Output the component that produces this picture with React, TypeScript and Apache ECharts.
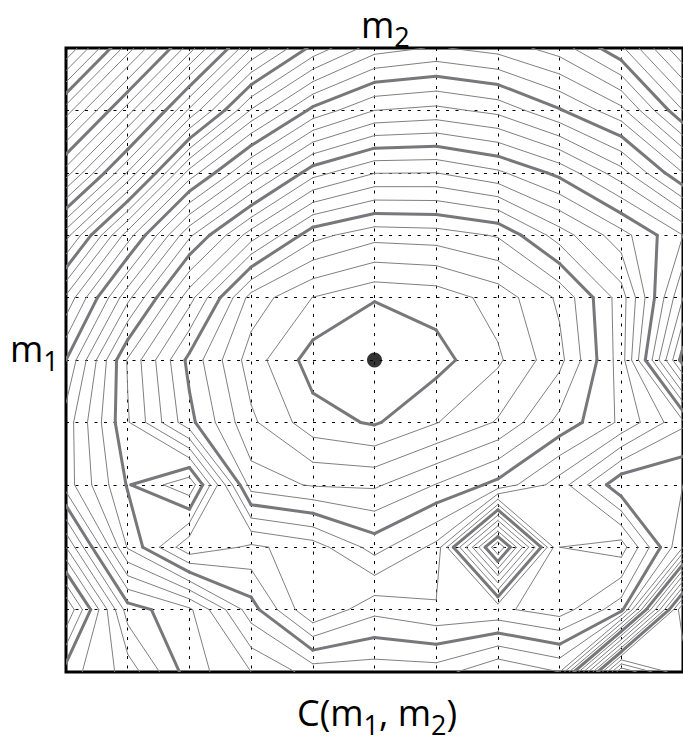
import React, { useEffect, useRef } from "react";
import * as echarts from "echarts";

// Node positions of the sampling grid (both axes use the same 0..10 index)
const gridIndex = [0, 1, 2, 3, 4, 5, 6, 7, 8, 9, 10];

// Sampled C(m1, m2) values, one row per m1 step (top to bottom)
const row0 = [44, 38.5, 33.5, 28, 24.7, 22.45, 21.9, 22.4, 23.5, 25.8, 30];
const row1 = [38.5, 33.5, 27.8, 22.9, 19.7, 18.0, 17.7, 18.3, 19.9, 21.7, 26];
const row2 = [33.5, 27.9, 21.6, 17.75, 14.4, 13.04, 13.0, 13.8, 15.3, 17.6, 21];
const row3 = [27.4, 21.5, 16.2, 12.5, 9.35, 8.37, 8.5, 9.1, 11.5, 13.6, 16];
const row4 = [22.8, 17.3, 12.4, 7.6, 5.98, 5.2, 5.42, 6.4, 8.2, 11.5, 18];
const row5 = [20, 13.9, 9.7, 6.5, 4.54, 2.16, 4.61, 5.84, 7.7, 11.5, 20.5];
const row6 = [18.55, 14.1, 10.3, 7.2, 5.41, 4.88, 5.95, 7.1, 9.3, 11.2, 13.8];
const row7 = [18.5, 14.9, 16.8, 8.5, 7.9, 7.83, 9.04, 10.3, 12.5, 15.8, 16];
const row8 = [23, 15.9, 12.2, 13.2, 12.5, 10.6, 12.3, 22, 12, 11.5, 17];
const row9 = [28, 20.5, 19.2, 15.45, 12.03, 13.7, 13.13, 13.2, 12.5, 14.6, 28];
const row10 = [24.5, 22.6, 19.5, 18, 16.6, 16.6, 16.5, 18, 17, 30, 26];

const surface = [row0, row1, row2, row3, row4, row5, row6, row7, row8, row9, row10];

// Contour levels: every integer from 5 upwards, every fifth one drawn heavy
const firstLevel = 5;
const majorEvery = 5;

// Position of the minimum, marked with a dot
const minimumPoint = [5, 5];

type Seg = [number, number, number, number];

function marchingSquares(z: number[][], xs: number[], level: number): Seg[] {
  const segs: Seg[] = [];
  const ny = z.length;
  const nx = z[0].length;
  const t = (v1: number, v2: number) => (level - v1) / (v2 - v1);
  for (let j = 0; j < ny - 1; j++) {
    for (let i = 0; i < nx - 1; i++) {
      const a = z[j][i];
      const b = z[j][i + 1];
      const c = z[j + 1][i + 1];
      const d = z[j + 1][i];
      const x0 = xs[i];
      const x1 = xs[i + 1];
      const y0 = xs[j];
      const y1 = xs[j + 1];
      const A = a < level, B = b < level, C = c < level, D = d < level;
      const top = A !== B ? [x0 + t(a, b) * (x1 - x0), y0] : null;
      const right = B !== C ? [x1, y0 + t(b, c) * (y1 - y0)] : null;
      const bottom = D !== C ? [x0 + t(d, c) * (x1 - x0), y1] : null;
      const left = A !== D ? [x0, y0 + t(a, d) * (y1 - y0)] : null;
      const pts = [top, right, bottom, left].filter(Boolean) as number[][];
      if (pts.length === 2) {
        segs.push([pts[0][0], pts[0][1], pts[1][0], pts[1][1]]);
      } else if (pts.length === 4) {
        // saddle cell: decide the pairing from the cell-centre average
        const center = (a + b + c + d) / 4;
        if ((center < level) === A) {
          segs.push([top![0], top![1], right![0], right![1]]);
          segs.push([left![0], left![1], bottom![0], bottom![1]]);
        } else {
          segs.push([top![0], top![1], left![0], left![1]]);
          segs.push([right![0], right![1], bottom![0], bottom![1]]);
        }
      }
    }
  }
  return segs;
}

function buildContours() {
  let maxV = -Infinity;
  surface.forEach((r) => r.forEach((v) => (maxV = Math.max(maxV, v))));
  const thin: Seg[] = [];
  const thick: Seg[] = [];
  for (let lv = firstLevel; lv < maxV; lv++) {
    const segs = marchingSquares(surface, gridIndex, lv);
    if (lv % majorEvery === 0) thick.push(...segs);
    else thin.push(...segs);
  }
  return { thin, thick };
}

const FONT = "'Open Sans', 'Noto Sans', sans-serif";

export default function App() {
  const ref = useRef<HTMLDivElement>(null);

  useEffect(() => {
    if (!ref.current) return;
    const chart = echarts.init(ref.current, undefined, { renderer: "svg" });
    const { thin, thick } = buildContours();

    const segRenderer = (color: string, width: number) => (params: any, api: any) => {
      const p1 = api.coord([api.value(0), api.value(1)]);
      const p2 = api.coord([api.value(2), api.value(3)]);
      return {
        type: "line",
        shape: { x1: p1[0], y1: p1[1], x2: p2[0], y2: p2[1] },
        style: { stroke: color, lineWidth: width, lineCap: "round" },
        silent: true,
      };
    };

    // main glyphs centred in a 52px line, subscripts pushed to the line bottom
    const main = { fontSize: 36, fontFamily: FONT, color: "#000", lineHeight: 52, verticalAlign: "middle" };
    const sub = { fontSize: 27, fontFamily: FONT, color: "#000", lineHeight: 28, verticalAlign: "bottom" };

    chart.setOption({
      animation: false,
      backgroundColor: "#fff",
      grid: {
        left: 66,
        top: 48,
        width: 624,
        height: 624,
        show: true,
        borderColor: "#000",
        borderWidth: 3,
        backgroundColor: "transparent",
      },
      xAxis: {
        type: "value",
        min: 0,
        max: 10,
        interval: 1,
        axisLine: { show: false },
        axisTick: { show: false },
        axisLabel: { show: false },
        splitLine: { show: true, lineStyle: { color: "#000", type: [3, 6.5], width: 1 } },
      },
      yAxis: {
        type: "value",
        min: 0,
        max: 10,
        interval: 1,
        inverse: true,
        axisLine: { show: false },
        axisTick: { show: false },
        axisLabel: { show: false },
        splitLine: { show: true, lineStyle: { color: "#000", type: [3, 6.5], width: 1 } },
      },
      graphic: [
        {
          type: "text",
          left: 361,
          top: 6,
          style: { text: "{m|m}{s|2}", rich: { m: main, s: sub } },
        },
        {
          type: "text",
          left: 10,
          top: 330,
          style: { text: "{m|m}{s|1}", rich: { m: main, s: sub } },
        },
        {
          type: "text",
          left: 297,
          top: 694,
          style: { text: "{m|C(m}{s|1}{m|, m}{s|2}{m|)}", rich: { m: main, s: sub } },
        },
      ],
      series: [
        {
          type: "custom",
          data: thin,
          encode: { x: [0, 2], y: [1, 3] },
          renderItem: segRenderer("#808080", 1),
          clip: true,
          z: 2,
        },
        {
          type: "custom",
          data: thick,
          encode: { x: [0, 2], y: [1, 3] },
          renderItem: segRenderer("#78787c", 3),
          clip: true,
          z: 3,
        },
        {
          type: "scatter",
          data: [minimumPoint],
          symbolSize: 15,
          itemStyle: { color: "#000" },
          z: 4,
          silent: true,
        },
      ],
    });
    return () => chart.dispose();
  }, []);

  return (
    <div
      ref={ref}
      style={{ position: "fixed", left: 0, top: 0, width: 683, height: 746, background: "#fff" }}
    />
  );
}
